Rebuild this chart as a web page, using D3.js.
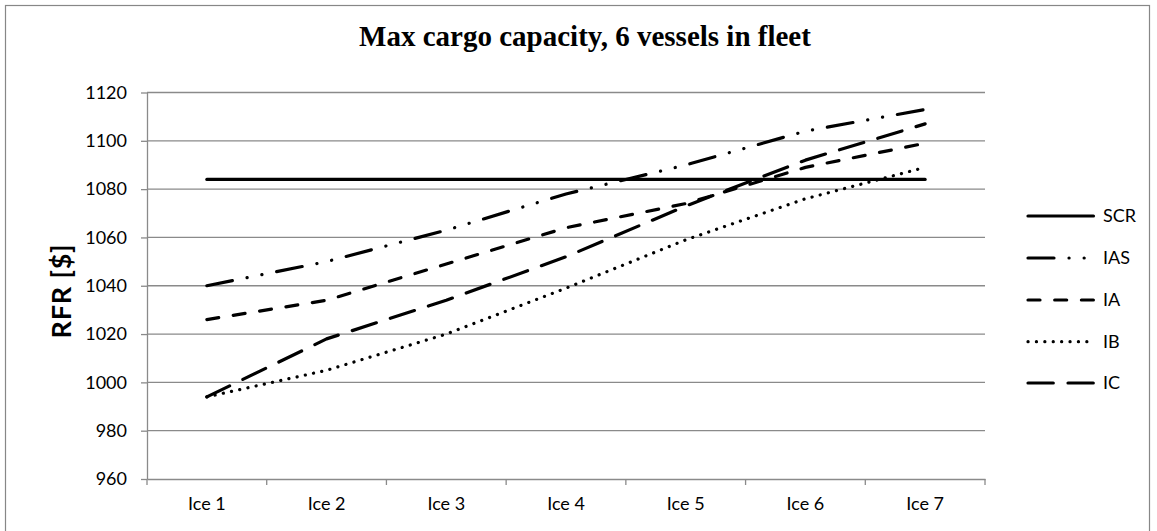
<!DOCTYPE html>
<html>
<head>
<meta charset="utf-8">
<script src="https://cdn.jsdelivr.net/npm/d3@7"></script>
<style>
  html, body { margin: 0; padding: 0; background: #fff; }
  svg { display: block; }
</style>
</head>
<body>
<svg id="chart" width="1157" height="531"></svg>
<script>
// ---- Data ----
const categories = ["Ice 1", "Ice 2", "Ice 3", "Ice 4", "Ice 5", "Ice 6", "Ice 7"];
const seriesNames = ["SCR", "IAS", "IA", "IB", "IC"];
const SCR = [1084, 1084, 1084, 1084, 1084, 1084, 1084];
const IAS = [1040, 1050, 1063, 1078, 1090, 1104, 1113];
const IA  = [1026, 1034, 1049, 1064, 1074, 1089, 1099];
const IB  = [994, 1005, 1020, 1039, 1059, 1076, 1089];
const IC  = [994, 1018, 1034, 1052, 1073, 1092, 1107];
const yTicks = [960, 980, 1000, 1020, 1040, 1060, 1080, 1100, 1120];
const title = "Max cargo capacity, 6 vessels in fleet";
const yTitle = "RFR [$]";

// ---- Styles ----
const dashes = {
  SCR: null,
  IAS: "26 15 0.1 15 0.1 15",
  IA: "12 14.7",
  IB: "0.1 8.3",
  IC: "25.3 14.7"
};
const seriesData = { SCR, IAS, IA, IB, IC };

const svg = d3.select("#chart");
const W = 1157, H = 531;
svg.append("rect").attr("x", 0).attr("y", 0).attr("width", W).attr("height", H).attr("fill", "#fff");
// outer border
svg.append("rect")
  .attr("x", 5.5).attr("y", 5.5).attr("width", 1144).attr("height", 560)
  .attr("fill", "none").attr("stroke", "#878787").attr("stroke-width", 1.2);

const plot = { left: 147, right: 985, top: 92.5, bottom: 479 };

const x = d3.scaleBand().domain(categories).range([plot.left, plot.right]).padding(0);
const y = d3.scaleLinear().domain([960, 1120]).range([plot.bottom, plot.top]);

const gridColor = "#8a8a8a";

// gridlines
svg.append("g").selectAll("line").data(yTicks.filter(d => d !== 960)).join("line")
  .attr("x1", plot.left).attr("x2", plot.right)
  .attr("y1", d => y(d)).attr("y2", d => y(d))
  .attr("stroke", gridColor).attr("stroke-width", 1.3);

// y axis
const yAxis = svg.append("g").attr("transform", `translate(${plot.left},0)`)
  .call(d3.axisLeft(y).tickValues(yTicks).tickFormat(d3.format("d"))
    .tickSize(6).tickPadding(14).tickSizeOuter(0));
yAxis.select(".domain").attr("stroke", gridColor).attr("stroke-width", 1.3);
yAxis.selectAll(".tick line").attr("stroke", gridColor).attr("stroke-width", 1.3);
yAxis.selectAll(".tick text")
  .attr("font-family", "Lato, 'Liberation Sans', sans-serif")
  .attr("font-size", 18).attr("fill", "#000");

// x axis
const xAxis = svg.append("g").attr("transform", `translate(0,${plot.bottom})`)
  .call(d3.axisBottom(x).tickSize(0).tickPadding(18).tickSizeOuter(0));
xAxis.select(".domain").attr("stroke", gridColor).attr("stroke-width", 1.3);
xAxis.selectAll(".tick text")
  .attr("font-family", "Lato, 'Liberation Sans', sans-serif")
  .attr("font-size", 18).attr("fill", "#000");
// boundary ticks
const bounds = categories.map(c => x(c)).concat([x(categories[categories.length - 1]) + x.bandwidth()]);
svg.append("g").selectAll("line").data(bounds).join("line")
  .attr("x1", d => d).attr("x2", d => d)
  .attr("y1", plot.bottom).attr("y2", plot.bottom + 6)
  .attr("stroke", gridColor).attr("stroke-width", 1.3);

// title
svg.append("text")
  .attr("x", 585).attr("y", 46)
  .attr("text-anchor", "middle")
  .attr("font-family", "'Liberation Serif', 'Times New Roman', serif")
  .attr("font-weight", "bold").attr("font-size", 29)
  .text(title);

// y title
svg.append("text")
  .attr("transform", `translate(71,291) rotate(-90)`)
  .attr("text-anchor", "middle")
  .attr("font-family", "Lato, 'Liberation Sans', sans-serif")
  .attr("font-weight", "bold").attr("font-size", 27)
  .attr("letter-spacing", 0.8)
  .text(yTitle);

// lines
const line = d3.line().x((d, i) => x(categories[i]) + x.bandwidth() / 2).y(d => y(d));
seriesNames.forEach(name => {
  svg.append("path")
    .datum(seriesData[name])
    .attr("d", line)
    .attr("fill", "none")
    .attr("stroke", "#000")
    .attr("stroke-width", 3.2)
    .attr("stroke-linecap", "round")
    .attr("stroke-linejoin", "round")
    .attr("stroke-dasharray", dashes[name]);
});

// legend
const legendY = [216, 258, 300, 341.7, 383];
const lg = svg.append("g");
seriesNames.forEach((name, i) => {
  lg.append("line")
    .attr("x1", 1028).attr("x2", 1093.5)
    .attr("y1", legendY[i]).attr("y2", legendY[i])
    .attr("stroke", "#000").attr("stroke-width", 3.2)
    .attr("stroke-linecap", "round")
    .attr("stroke-dasharray", dashes[name]);
  lg.append("text")
    .attr("x", 1103).attr("y", legendY[i])
    .attr("dy", "0.35em")
    .attr("font-family", "Lato, 'Liberation Sans', sans-serif")
    .attr("font-size", 18).attr("fill", "#000")
    .text(name);
});
</script>
</body>
</html>
